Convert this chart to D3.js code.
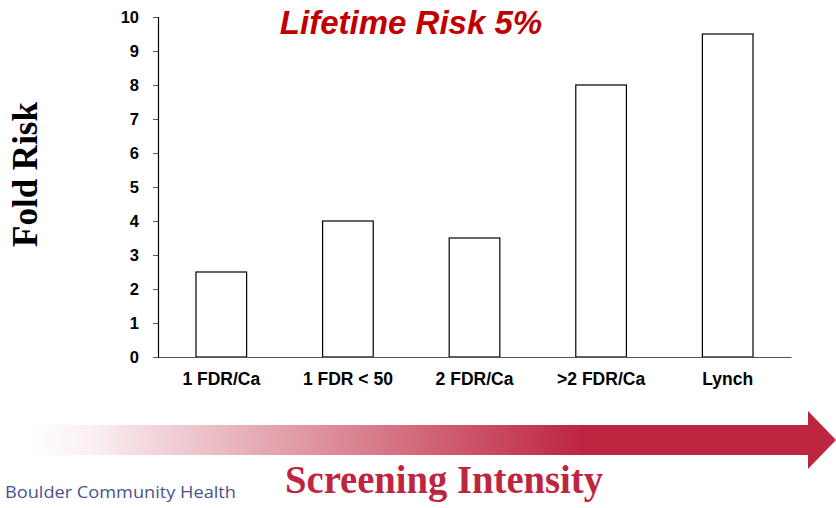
<!DOCTYPE html>
<html>
<head>
<meta charset="utf-8">
<script src="https://cdn.jsdelivr.net/npm/d3@7"></script>
<style>
  html, body { margin: 0; padding: 0; background: #fff; }
  svg { display: block; }
</style>
</head>
<body>
<svg id="chart" width="836" height="508"></svg>
<script>
const categories = ["1 FDR/Ca", "1 FDR < 50", "2 FDR/Ca", ">2 FDR/Ca", "Lynch"];
const foldRisk = [2.5, 4, 3.5, 8, 9.5];
const yTicks = [0, 1, 2, 3, 4, 5, 6, 7, 8, 9, 10];

const svg = d3.select("#chart");
const plotLeft = 158, plotRight = 791, plotTop = 17, plotBottom = 357;

const x = d3.scaleBand().domain(categories).range([plotLeft, plotRight]).paddingInner(0.6).paddingOuter(0.3);
const y = d3.scaleLinear().domain([0, 10]).range([plotBottom, plotTop]);

// y axis
const yAxis = svg.append("g")
  .attr("transform", `translate(${plotLeft},0)`)
  .call(d3.axisLeft(y).tickValues(yTicks).tickSize(5).tickPadding(14).tickFormat(d3.format("d")));
yAxis.select(".domain").attr("stroke", "#000").attr("stroke-width", 1.2);
yAxis.selectAll(".tick line").attr("stroke", "#555");
yAxis.selectAll(".tick text")
  .attr("font-family", "Liberation Sans, Arial, sans-serif")
  .attr("font-weight", "bold").attr("font-size", 16.5).attr("fill", "#000");

// bars
svg.append("g").selectAll("rect").data(foldRisk).join("rect")
  .attr("x", (d, i) => x(categories[i]))
  .attr("y", d => y(d))
  .attr("width", x.bandwidth())
  .attr("height", d => y(0) - y(d))
  .attr("fill", "#fff")
  .attr("stroke", "#000")
  .attr("stroke-width", 1.2);

// x axis
const xAxis = svg.append("g")
  .attr("transform", `translate(0,${plotBottom})`)
  .call(d3.axisBottom(x).tickSize(0).tickPadding(16));
xAxis.select(".domain").attr("stroke", "#555").attr("stroke-width", 1.2);
xAxis.selectAll(".tick text")
  .attr("font-family", "Liberation Sans, Arial, sans-serif")
  .attr("font-weight", "bold").attr("font-size", 17.5).attr("fill", "#000");

// title
svg.append("text")
  .attr("x", 411).attr("y", 34)
  .attr("text-anchor", "middle")
  .attr("font-family", "Liberation Sans, Arial, sans-serif")
  .attr("font-weight", "bold").attr("font-style", "italic")
  .attr("font-size", 33).attr("fill", "#c00000")
  .text("Lifetime Risk 5%");

// y axis title
svg.append("text")
  .attr("transform", "translate(37,174.5) rotate(-90)")
  .attr("text-anchor", "middle")
  .attr("font-family", "Liberation Serif, 'Times New Roman', serif")
  .attr("font-weight", "bold").attr("font-size", 35).attr("fill", "#000")
  .text("Fold Risk");

// gradient arrow
const defs = svg.append("defs");
const grad = defs.append("linearGradient").attr("id", "arrowGrad")
  .attr("gradientUnits", "userSpaceOnUse")
  .attr("x1", 30).attr("y1", 0).attr("x2", 580).attr("y2", 0);
grad.append("stop").attr("offset", "0").attr("stop-color", "#be2640").attr("stop-opacity", 0);
grad.append("stop").attr("offset", "0.12").attr("stop-color", "#be2640").attr("stop-opacity", 0.08);
grad.append("stop").attr("offset", "1").attr("stop-color", "#be2640").attr("stop-opacity", 1);

svg.append("path")
  .attr("d", "M30,425 L808,425 L808,411 L836,440 L808,469 L808,455 L30,455 Z")
  .attr("fill", "url(#arrowGrad)");

svg.append("text")
  .attr("x", 285).attr("y", 493)
  .attr("font-family", "Liberation Serif, 'Times New Roman', serif")
  .attr("font-weight", "bold").attr("font-size", 40).attr("fill", "#be2640")
  .attr("textLength", 318).attr("lengthAdjust", "spacingAndGlyphs")
  .text("Screening Intensity");

svg.append("text")
  .attr("x", 5).attr("y", 498)
  .attr("font-family", "'Open Sans', sans-serif")
  .attr("font-size", 17).attr("fill", "#4b5190")
  .attr("textLength", 231).attr("lengthAdjust", "spacingAndGlyphs")
  .text("Boulder Community Health");
</script>
</body>
</html>
